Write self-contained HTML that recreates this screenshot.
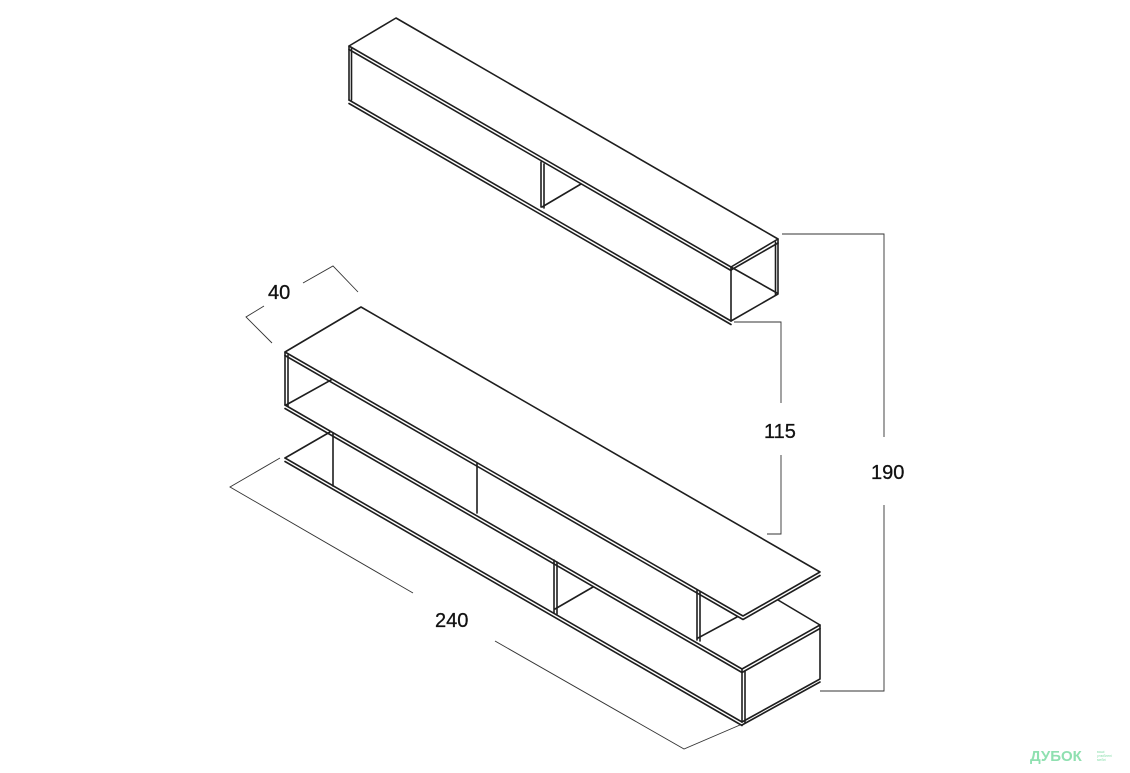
<!DOCTYPE html>
<html><head><meta charset="utf-8"><style>
html,body{margin:0;padding:0;background:#fff;}
svg{display:block}
text{font-family:"Liberation Sans",sans-serif;fill:#111}
</style></head><body>
<svg width="1130" height="773" viewBox="0 0 1130 773" xmlns="http://www.w3.org/2000/svg">
<g fill="none" stroke="#1e1e1e" stroke-width="1.6" stroke-linejoin="round" stroke-linecap="round">
<path d="M349,46 L396,18 L778,239 L731,267 Z"/>
<path d="M349,49.5 L731,270.5"/>
<path d="M349,46 L349,100"/>
<path d="M351.5,48 L351.5,100"/>
<path d="M349,100 L731,321"/>
<path d="M349,103.5 L731,324.5"/>
<path d="M731,267 L731,321"/>
<path d="M778,239 L778,294 L731,321"/>
<path d="M775.5,242 L775.5,295"/>
<path d="M731,270 L778,243"/>
<path d="M731,267 L777,293"/>
<path d="M541,162 L541,207"/>
<path d="M544,164 L544,208"/>
<path d="M542,207 L581,184"/>
<path d="M285,352 L361,307 L820,572 L743,616 Z"/>
<path d="M285,355.5 L743,619.5 L820,575.5"/>
<path d="M285,352 L285,405"/>
<path d="M288,355 L288,406"/>
<path d="M285,405 L742,669"/>
<path d="M285,408.5 L742,672.5"/>
<path d="M286,405 L331,380"/>
<path d="M477,463 L477,513"/>
<path d="M697,590 L697,640"/>
<path d="M700,592 L700,641"/>
<path d="M698,638 L737,617"/>
<path d="M333,433 L333,486"/>
<path d="M554,560 L554,613"/>
<path d="M557,562 L557,614"/>
<path d="M555,609 L593,587"/>
<path d="M285,458 L742,722"/>
<path d="M285,461.5 L742,725.5"/>
<path d="M285,458 L330,432"/>
<path d="M742,669 L742,722"/>
<path d="M745,671 L745,723"/>
<path d="M742,669 L820,625 L820,679 L742,722"/>
<path d="M742,672.5 L820,628.5"/>
<path d="M742,725 L820,682"/>
<path d="M778,600 L820,625"/>
</g>
<g fill="none" stroke="#333" stroke-width="0.9">
<path d="M264,306 L246,317 L272,343"/>
<path d="M303,283 L333,266 L358,292"/>
<path d="M280,458 L230,487 L413,593"/>
<path d="M495,641 L684,749 L740,725"/>
<path d="M734,322 L781,322 L781,403"/>
<path d="M781,455 L781,534 L767,534"/>
<path d="M782,234 L884,234 L884,437"/>
<path d="M884,505 L884,691 L820,691"/>
</g>
<g font-size="20" style="stroke:#111;stroke-width:0.3">
<text x="268" y="299">40</text>
<text x="435" y="627">240</text>
<text x="764" y="438">115</text>
<text x="871" y="479">190</text>
</g>
<text x="1030" y="761" font-size="15" font-weight="bold" style="fill:#8fe0b0">ДУБОК</text>
<text x="1097" y="753" font-size="3.5" style="fill:#8fe0b0">ваші</text>
<text x="1097" y="757" font-size="3.5" style="fill:#8fe0b0">улюблені</text>
<text x="1097" y="761" font-size="3.5" style="fill:#8fe0b0">меблі</text>
</svg>
</body></html>
